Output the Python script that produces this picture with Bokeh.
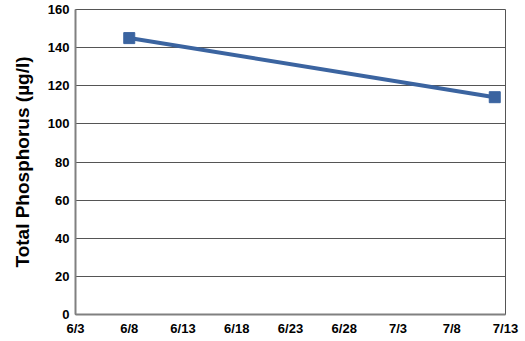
import pandas as pd
from bokeh.plotting import figure
from bokeh.models import FixedTicker, Range1d
from bokeh.embed import file_html
from bokeh.resources import INLINE

# data
sample_dates = ["2012-06-08", "2012-07-12"]
total_phosphorus = [145, 114]

tick_dates = ["2012-06-03", "2012-06-08", "2012-06-13", "2012-06-18", "2012-06-23",
              "2012-06-28", "2012-07-03", "2012-07-08", "2012-07-13"]
tick_labels = ["6/3", "6/8", "6/13", "6/18", "6/23", "6/28", "7/3", "7/8", "7/13"]
y_ticks = [0, 20, 40, 60, 80, 100, 120, 140, 160]

origin = pd.Timestamp(tick_dates[0])
x_vals = [(pd.Timestamp(d) - origin).days for d in sample_dates]
x_ticks = [(pd.Timestamp(d) - origin).days for d in tick_dates]

FONT = "Liberation Sans"

p = figure(width=525, height=341, output_backend="svg", toolbar_location=None,
           x_range=Range1d(x_ticks[0], x_ticks[-1]), y_range=Range1d(0, 160),
           min_border_left=75, min_border_right=20, min_border_top=9, min_border_bottom=27)

p.line(x_vals, total_phosphorus, line_color="#3b64a0", line_width=4)
p.scatter(x_vals, total_phosphorus, marker="square", size=11,
          fill_color="#3b64a0", line_color="#3b64a0")

p.xaxis.ticker = FixedTicker(ticks=x_ticks)
p.xaxis.major_label_overrides = {t: l for t, l in zip(x_ticks, tick_labels)}
p.yaxis.ticker = FixedTicker(ticks=y_ticks)

for ax in (p.xaxis[0], p.yaxis[0]):
    ax.major_label_text_font = FONT
    ax.major_label_text_font_style = "bold"
    ax.major_label_text_font_size = "13px"
    ax.major_label_text_color = "black"
    ax.major_tick_in = 0
    ax.major_tick_out = 0
    ax.minor_tick_in = 0
    ax.minor_tick_out = 0
    ax.axis_line_color = "#808080"
    ax.axis_line_width = 2
    ax.major_label_standoff = 6

p.xaxis.axis_label_standoff = 0

p.yaxis.axis_label = "Total Phosphorus (µg/l)"
p.yaxis.axis_label_text_font = FONT
p.yaxis.axis_label_text_font_style = "bold"
p.yaxis.axis_label_text_font_size = "19px"
p.yaxis.axis_label_text_color = "black"
p.yaxis.axis_label_standoff = 12

p.xgrid.grid_line_color = None
p.ygrid.grid_line_color = "#555555"
p.ygrid.grid_line_width = 1
p.outline_line_color = "#555555"
p.outline_line_width = 1
p.background_fill_color = "white"
p.border_fill_color = "white"

open("out.html", "w").write(file_html(p, INLINE))
